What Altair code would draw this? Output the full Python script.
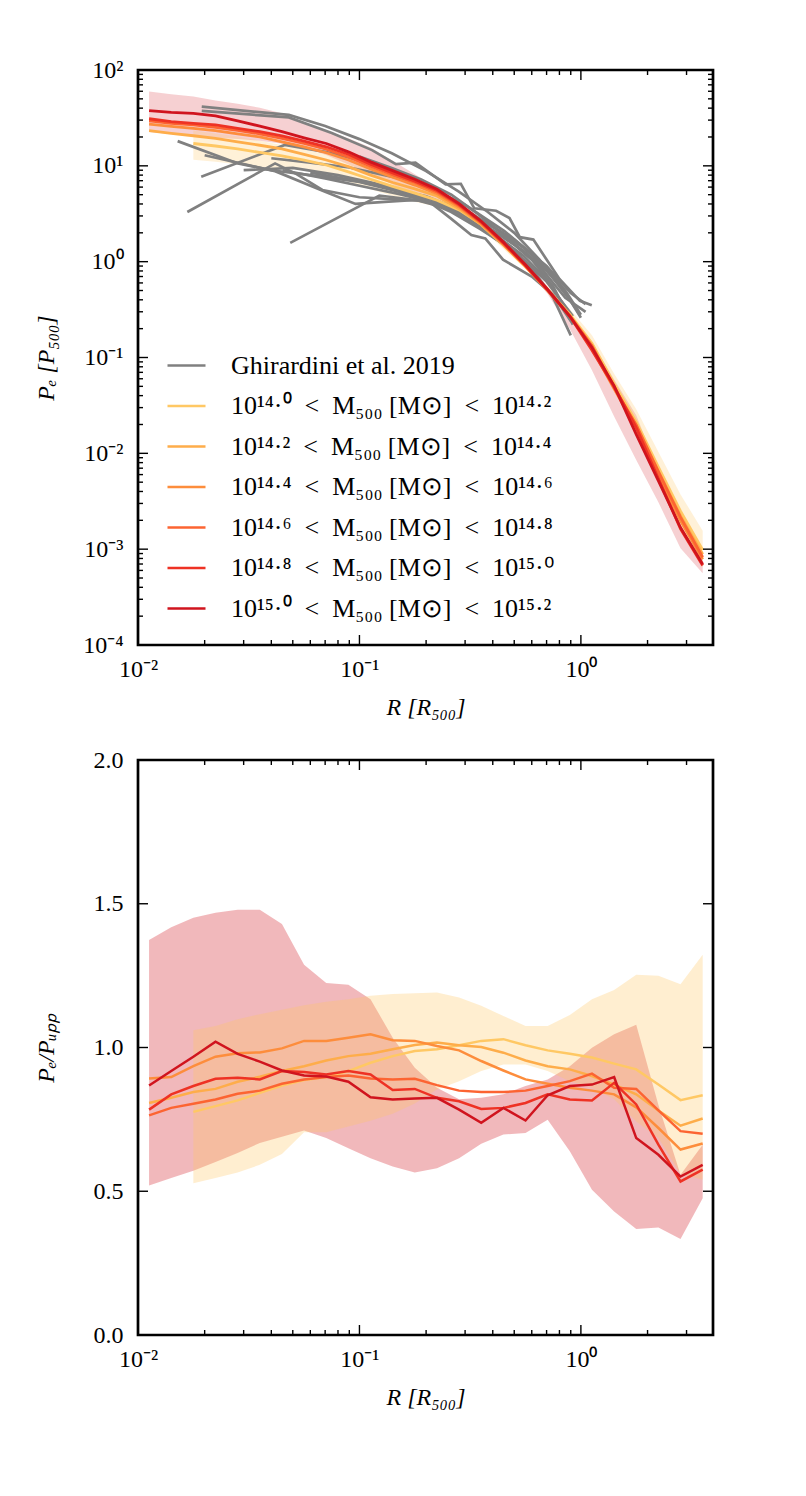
import altair as alt
import pandas as pd

# ---------------- data ----------------
# radial grid of the simulated profiles, R / R500
R = [0.01122, 0.01413, 0.01778, 0.02239, 0.02818, 0.03548, 0.04467, 0.05623,
     0.07079, 0.08913, 0.1122, 0.1413, 0.1778, 0.2239, 0.2818, 0.3548, 0.4467,
     0.5623, 0.7079, 0.8913, 1.122, 1.413, 1.778, 2.239, 2.818, 3.548]
FIRST = [2, 0, 0, 0, 0, 0]  # first radial point with data, per mass bin

GHIR = "Ghirardini et al. 2019"
BINS = ["10¹⁴·⁰\u2002<\u2002M₅₀₀ [M⊙]\u2002<\u200210¹⁴·²",
        "10¹⁴·²\u2002<\u2002M₅₀₀ [M⊙]\u2002<\u200210¹⁴·⁴",
        "10¹⁴·⁴\u2002<\u2002M₅₀₀ [M⊙]\u2002<\u200210¹⁴·⁶",
        "10¹⁴·⁶\u2002<\u2002M₅₀₀ [M⊙]\u2002<\u200210¹⁴·⁸",
        "10¹⁴·⁸\u2002<\u2002M₅₀₀ [M⊙]\u2002<\u200210¹⁵·⁰",
        "10¹⁵·⁰\u2002<\u2002M₅₀₀ [M⊙]\u2002<\u200210¹⁵·²"]
COLORS = ["#FFC864", "#FEAD4A", "#FD8D3C", "#FC6432", "#EE3224", "#D0141E"]
GREY = "#808080"

# P_e / P_500 (top panel)
P0 = [17.1, 16.1, 15.0, 13.8, 12.7, 11.5, 10.2, 8.65, 7.24, 6.10, 5.19, 4.37, 3.47,
      2.45, 1.49, 0.891, 0.508, 0.281, 0.141, 0.0532, 0.0213, 0.00718, 0.00249, 0.000982]
P1 = [23.3, 21.8, 20.6, 19.3, 17.8, 16.4, 15.0, 13.2, 11.5, 9.8, 8.0, 6.7, 5.75, 4.85,
      3.57, 2.43, 1.50, 0.897, 0.507, 0.277, 0.131, 0.0491, 0.0193, 0.00643, 0.00222, 0.000886]
P2 = [27.3, 25.8, 24.6, 23.3, 21.6, 20.0, 17.8, 15.8, 13.7, 11.5, 9.3, 7.6, 6.3, 5.13,
      3.72, 2.49, 1.52, 0.897, 0.503, 0.273, 0.124, 0.0472, 0.0183, 0.00593, 0.00197, 0.000784]
P3 = [29.4, 27.8, 26.7, 25.2, 23.4, 21.6, 19.3, 17.1, 14.9, 12.4, 9.9, 8.1, 6.7, 5.35,
      3.85, 2.55, 1.55, 0.904, 0.503, 0.271, 0.133, 0.0485, 0.0198, 0.00643, 0.00216, 0.000824]
P4 = [31.0, 28.9, 27.7, 26.7, 24.6, 22.7, 20.5, 18.1, 15.8, 13.2, 10.4, 8.41, 6.92, 5.52,
      3.94, 2.59, 1.57, 0.912, 0.507, 0.269, 0.119, 0.0495, 0.0185, 0.00545, 0.00163, 0.000677]
P5 = [37.7, 36.1, 35.3, 33.3, 29.4, 26.0, 22.7, 19.6, 17.1, 14.0, 11.0, 8.91, 7.24, 5.70,
      4.04, 2.64, 1.60, 0.927, 0.512, 0.269, 0.127, 0.0506, 0.0158, 0.00516, 0.00168, 0.000697]
P_BINS = [P0, P1, P2, P3, P4, P5]

# scatter bands (top panel): highest-mass bin (pink) and lowest-mass bin (yellow)
PINK_HI = [59.7, 55.8, 52.9, 48.0, 44.5, 40.4, 35.3, 28.0, 23.3, 19.4, 15.5, 11.3, 8.18,
           5.94, 4.23, 2.95, 1.69, 1.076, 0.546, 0.290, 0.146, 0.0590, 0.0249, 0.00658,
           0.00170, 0.000779]
PINK_LO = [22.6, 21.5, 20.8, 19.6, 19.0, 18.3, 17.0, 15.4, 13.0, 10.3, 8.15, 6.38, 4.97,
           4.01, 3.17, 2.38, 1.41, 0.873, 0.460, 0.198, 0.0737, 0.0243, 0.00851, 0.00308,
           0.00102, 0.000560]
YEL_HI = [23.4, 21.7, 20.2, 18.3, 16.5, 14.9, 13.2, 11.0, 9.02, 7.46, 6.24, 5.24, 4.04,
          2.74, 1.61, 0.950, 0.552, 0.320, 0.171, 0.0676, 0.0289, 0.0103, 0.00372, 0.00156]
YEL_LO = [11.6, 11.0, 10.4, 9.70, 9.22, 9.14, 8.02, 6.83, 5.70, 4.84, 4.23, 3.75, 3.04,
          2.20, 1.36, 0.832, 0.471, 0.254, 0.126, 0.0462, 0.0171, 0.00565, 0.00171, 0.000636]

# P_e / P_UPP (bottom panel)
Q0 = [0.776, 0.796, 0.816, 0.842, 0.868, 0.887, 0.897, 0.918, 0.947, 0.970, 0.988, 0.994,
      1.008, 1.023, 1.029, 1.008, 0.990, 0.978, 0.965, 0.944, 0.924, 0.871, 0.817, 0.834]
Q1 = [0.807, 0.825, 0.845, 0.856, 0.881, 0.898, 0.918, 0.935, 0.955, 0.970, 0.978, 0.994,
      1.009, 1.017, 1.008, 1.002, 0.982, 0.955, 0.935, 0.924, 0.901, 0.871, 0.837, 0.781,
      0.728, 0.753]
Q2 = [0.892, 0.897, 0.935, 0.968, 0.980, 0.983, 0.997, 1.023, 1.023, 1.034, 1.046, 1.025,
      1.023, 1.005, 0.990, 0.953, 0.920, 0.889, 0.874, 0.860, 0.850, 0.837, 0.792, 0.720,
      0.645, 0.666]
Q3 = [0.764, 0.790, 0.804, 0.819, 0.839, 0.850, 0.874, 0.889, 0.897, 0.903, 0.892, 0.889,
      0.891, 0.869, 0.850, 0.845, 0.845, 0.850, 0.866, 0.883, 0.909, 0.860, 0.856, 0.781,
      0.709, 0.700]
Q4 = [0.784, 0.837, 0.866, 0.891, 0.895, 0.889, 0.918, 0.915, 0.906, 0.918, 0.906, 0.852,
      0.856, 0.825, 0.813, 0.786, 0.790, 0.807, 0.837, 0.819, 0.816, 0.877, 0.802, 0.662,
      0.534, 0.575]
Q5 = [0.868, 0.918, 0.968, 1.020, 0.978, 0.951, 0.920, 0.903, 0.899, 0.881, 0.827, 0.819,
      0.823, 0.825, 0.784, 0.738, 0.790, 0.746, 0.834, 0.866, 0.871, 0.897, 0.685, 0.627,
      0.551, 0.592]
Q_BINS = [Q0, Q1, Q2, Q3, Q4, Q5]

QPINK_HI = [1.374, 1.418, 1.451, 1.469, 1.479, 1.479, 1.430, 1.288, 1.224, 1.218, 1.168,
            1.034, 0.930, 0.860, 0.820, 0.825, 0.837, 0.866, 0.889, 0.935, 0.999, 1.046,
            1.079, 0.800, 0.557, 0.662]
QPINK_LO = [0.520, 0.546, 0.571, 0.602, 0.633, 0.668, 0.690, 0.711, 0.685, 0.650, 0.615,
            0.586, 0.565, 0.580, 0.615, 0.665, 0.697, 0.703, 0.749, 0.639, 0.505, 0.430,
            0.369, 0.374, 0.334, 0.476]
QYEL_HI = [1.060, 1.075, 1.098, 1.116, 1.131, 1.147, 1.159, 1.168, 1.180, 1.186, 1.189,
           1.191, 1.174, 1.145, 1.110, 1.075, 1.075, 1.113, 1.168, 1.200, 1.253, 1.250,
           1.220, 1.323]
QYEL_LO = [0.528, 0.546, 0.565, 0.592, 0.630, 0.705, 0.705, 0.725, 0.745, 0.770, 0.805,
           0.854, 0.883, 0.918, 0.941, 0.941, 0.918, 0.883, 0.860, 0.820, 0.743, 0.685,
           0.560, 0.540]

# Ghirardini et al. 2019 individual cluster profiles (R/R500, P/P500)
GH_R = [
    [0.0194, 0.048, 0.07, 0.10, 0.14, 0.20, 0.28, 0.38, 0.50, 0.65, 0.80, 0.95],
    [0.0194, 0.048, 0.075, 0.114, 0.146, 0.179, 0.245, 0.287, 0.33, 0.414, 0.476, 0.53,
     0.61, 0.80, 0.99, 1.12],
    [0.0151, 0.0283, 0.0416, 0.070, 0.096, 0.13, 0.18, 0.25, 0.33, 0.45, 0.60, 0.75, 0.90],
    [0.0193, 0.046, 0.07, 0.10, 0.15, 0.20, 0.30, 0.45, 0.60, 0.80, 0.97],
    [0.0167, 0.0416, 0.052, 0.068, 0.10, 0.14, 0.20, 0.26, 0.35, 0.50, 0.70, 0.92],
    [0.0487, 0.123, 0.18, 0.25, 0.30, 0.40, 0.55, 0.70, 0.88],
    [0.020, 0.040, 0.060, 0.10, 0.14, 0.20, 0.26, 0.32, 0.37, 0.445, 0.60, 0.75, 0.90],
    [0.03, 0.05, 0.08, 0.12, 0.18, 0.25, 0.35, 0.50, 0.65, 0.85, 1.05],
    [0.045, 0.07, 0.10, 0.15, 0.22, 0.30, 0.42, 0.55, 0.70, 0.85, 1.00],
    [0.04, 0.06, 0.09, 0.13, 0.18, 0.25, 0.35, 0.50, 0.70, 0.90, 1.05],
    [0.06, 0.09, 0.13, 0.20, 0.30, 0.40, 0.55, 0.70, 0.85, 1.00],
    [0.10, 0.14, 0.19, 0.26, 0.34, 0.45, 0.60, 0.75, 0.92],
]
GH_P = [
    [41.5, 34.0, 26.0, 19.0, 13.5, 8.8, 5.4, 3.3, 2.0, 1.05, 0.55, 0.33],
    [37.4, 32.0, 22.0, 14.6, 10.4, 10.8, 6.4, 6.5, 3.6, 3.4, 2.85, 1.8, 1.7, 0.66, 0.39, 0.35],
    [18.1, 10.6, 8.8, 5.35, 4.0, 4.2, 4.4, 3.6, 2.5, 1.5, 0.85, 0.42, 0.17],
    [7.7, 16.5, 14.0, 11.5, 8.3, 6.2, 3.9, 2.1, 1.2, 0.58, 0.30],
    [3.3, 10.6, 8.2, 5.6, 4.7, 4.5, 4.3, 3.3, 2.2, 1.3, 0.62, 0.27],
    [1.57, 4.9, 4.4, 3.8, 3.0, 2.0, 1.15, 0.65, 0.30],
    [12.9, 9.0, 8.0, 6.8, 5.6, 4.5, 2.8, 1.9, 1.75, 1.05, 0.70, 0.45, 0.24],
    [9.0, 9.5, 8.0, 6.5, 5.0, 3.9, 2.6, 1.5, 0.90, 0.42, 0.30],
    [9.0, 7.4, 6.2, 5.1, 4.1, 3.1, 2.0, 1.3, 0.80, 0.48, 0.26],
    [12.0, 10.8, 9.6, 8.0, 6.8, 4.6, 2.8, 1.7, 0.90, 0.47, 0.36],
    [8.5, 7.2, 6.0, 4.8, 3.3, 2.3, 1.4, 0.85, 0.50, 0.28],
    [12.5, 9.5, 7.2, 5.0, 3.2, 1.9, 1.05, 0.55, 0.22],
]

# axis ticks
X_MAJOR = [0.01, 0.1, 1.0]
X_MINOR = [k * 10.0 ** e for e in (-2, -1) for k in range(2, 10)] + [2.0, 3.0]
YT_MAJOR = [1e-4, 1e-3, 1e-2, 1e-1, 1.0, 10.0, 100.0]
YT_MINOR = [k * 10.0 ** e for e in range(-4, 2) for k in range(2, 10)]
YB_MAJOR = [0.5, 1.0, 1.5]

# ---------------- chart ----------------
FONT = "Liberation Serif"
W, H = 575, 575

XS = alt.Scale(type="log", domain=[0.01, 3.95], nice=False)
YS_T = alt.Scale(type="log", domain=[1e-4, 100], nice=False)
YS_B = alt.Scale(type="linear", domain=[0, 2], nice=False, zero=False)

AX_X = alt.Axis(values=X_MAJOR, title="R [R₅₀₀]", titleFontStyle="italic",
                labelExpr="datum.value < 0.05 ? '10⁻²' : (datum.value < 0.5 ? '10⁻¹' : '10⁰')",
                labelPadding=12, labelFlush=False, titleY=69, titleBaseline="alphabetic")
AX_YT = alt.Axis(values=YT_MAJOR, title="Pₑ [P₅₀₀]", titleFontStyle="italic",
                 labelExpr=("datum.value < 5e-4 ? '10⁻⁴' : datum.value < 5e-3 ? '10⁻³' : "
                            "datum.value < 0.05 ? '10⁻²' : datum.value < 0.5 ? '10⁻¹' : "
                            "datum.value < 5 ? '10⁰' : datum.value < 50 ? '10¹' : '10²'"),
                 labelPadding=15, labelFlush=False, titleX=-92, titleY=H / 2,
                 titleBaseline="middle")
AX_YB = alt.Axis(values=[0, 0.5, 1.0, 1.5, 2.0], format=".1f", title="Pₑ/Pᵤₚₚ",
                 titleFontStyle="italic", labelPadding=15, labelFlush=False,
                 titleX=-92, titleY=H / 2, titleBaseline="middle")

X_ENC = alt.X("x:Q", scale=XS, axis=AX_X)


def tick_layers(y_enc, ymaj, ymin):
    out = []
    for vals, ln in ((X_MAJOR, 10), (X_MINOR, 5)):
        base = alt.Chart(pd.DataFrame({"x": vals})).mark_rule(color="black", strokeWidth=1.4)
        out.append(base.encode(x=X_ENC, y=alt.value(H), y2=alt.value(H - ln)))
        out.append(base.encode(x=X_ENC, y=alt.value(0), y2=alt.value(ln)))
    for vals, ln in ((ymaj, 10), (ymin, 5)):
        if not vals:
            continue
        base = alt.Chart(pd.DataFrame({"y": vals})).mark_rule(color="black", strokeWidth=1.4)
        out.append(base.encode(y=y_enc, x=alt.value(0), x2=alt.value(ln)))
        out.append(base.encode(y=y_enc, x=alt.value(W), x2=alt.value(W - ln)))
    return out


# ---- top panel ----
Y_T = alt.Y("y:Q", scale=YS_T, axis=AX_YT)
pink_t = pd.DataFrame({"x": R, "y": PINK_HI, "y2": PINK_LO})
yel_t = pd.DataFrame({"x": R[2:], "y": YEL_HI, "y2": YEL_LO})

rows = []
for k, lab in enumerate(BINS):
    for xv, yv in zip(R[FIRST[k]:], P_BINS[k]):
        rows.append({"x": xv, "y": yv, "s": lab, "o": k})
top_lines = pd.DataFrame(rows)

grows = []
for g, (xs, ps) in enumerate(zip(GH_R, GH_P)):
    for j, (xv, yv) in enumerate(zip(xs, ps)):
        grows.append({"x": xv, "y": yv, "s": GHIR, "g": g, "j": j})
grey = pd.DataFrame(grows)

COLOR_T = alt.Color("s:N", title=None,
                    scale=alt.Scale(domain=[GHIR] + BINS, range=[GREY] + COLORS),
                    legend=alt.Legend(orient="none", legendX=28, legendY=275,
                                      symbolType="stroke", symbolSize=1444,
                                      symbolStrokeWidth=2.7, labelFont=FONT,
                                      labelFontSize=26, labelOffset=24, rowPadding=6.5,
                                      labelLimit=700, padding=0, labelColor="black"))

band_p = alt.Chart(pink_t).mark_area(color="#D0141E", opacity=0.2).encode(
    x=X_ENC, y=Y_T, y2="y2:Q")
band_y = alt.Chart(yel_t).mark_area(color="#FFC864", opacity=0.25).encode(
    x=X_ENC, y=Y_T, y2="y2:Q")
grey_l = alt.Chart(grey).mark_line(strokeWidth=2.7).encode(
    x=X_ENC, y=Y_T, color=COLOR_T, detail="g:N", order="j:Q")
model_l = alt.Chart(top_lines).mark_line(strokeWidth=2.8).encode(
    x=X_ENC, y=Y_T, color=COLOR_T, detail="o:N")

top = alt.layer(band_p, band_y, grey_l, model_l,
                *tick_layers(Y_T, YT_MAJOR, YT_MINOR)).properties(width=W, height=H)

# ---- bottom panel ----
Y_B = alt.Y("y:Q", scale=YS_B, axis=AX_YB)
pink_b = pd.DataFrame({"x": R, "y": QPINK_HI, "y2": QPINK_LO})
yel_b = pd.DataFrame({"x": R[2:], "y": QYEL_HI, "y2": QYEL_LO})
rows = []
for k, lab in enumerate(BINS):
    for xv, yv in zip(R[FIRST[k]:], Q_BINS[k]):
        rows.append({"x": xv, "y": yv, "s": lab, "o": k})
bot_lines = pd.DataFrame(rows)

COLOR_B = alt.Color("s:N", scale=alt.Scale(domain=BINS, range=COLORS), legend=None)
bband_p = alt.Chart(pink_b).mark_area(color="#D0141E", opacity=0.3).encode(
    x=X_ENC, y=Y_B, y2="y2:Q")
bband_y = alt.Chart(yel_b).mark_area(color="#FFC864", opacity=0.3).encode(
    x=X_ENC, y=Y_B, y2="y2:Q")
bline = alt.Chart(bot_lines).mark_line(strokeWidth=2.5).encode(
    x=X_ENC, y=Y_B, color=COLOR_B, detail="o:N")

bottom = alt.layer(bband_p, bband_y, bline,
                   *tick_layers(Y_B, YB_MAJOR, [])).properties(width=W, height=H)

chart = (
    alt.vconcat(top, bottom, spacing=25)
    .resolve_scale(color="independent")
    .properties(padding={"left": 24, "top": 48, "right": 10, "bottom": 10})
    .configure_view(stroke="black", strokeWidth=2.7)
    .configure_axis(grid=False, domain=False, ticks=False, tickSize=0,
                    labelFont=FONT, labelFontSize=24, labelColor="black",
                    titleFont=FONT, titleFontSize=24, titleColor="black",
                    titleFontWeight="normal")
)

chart.save("out.html", embed_options={"renderer": "svg", "actions": False})
